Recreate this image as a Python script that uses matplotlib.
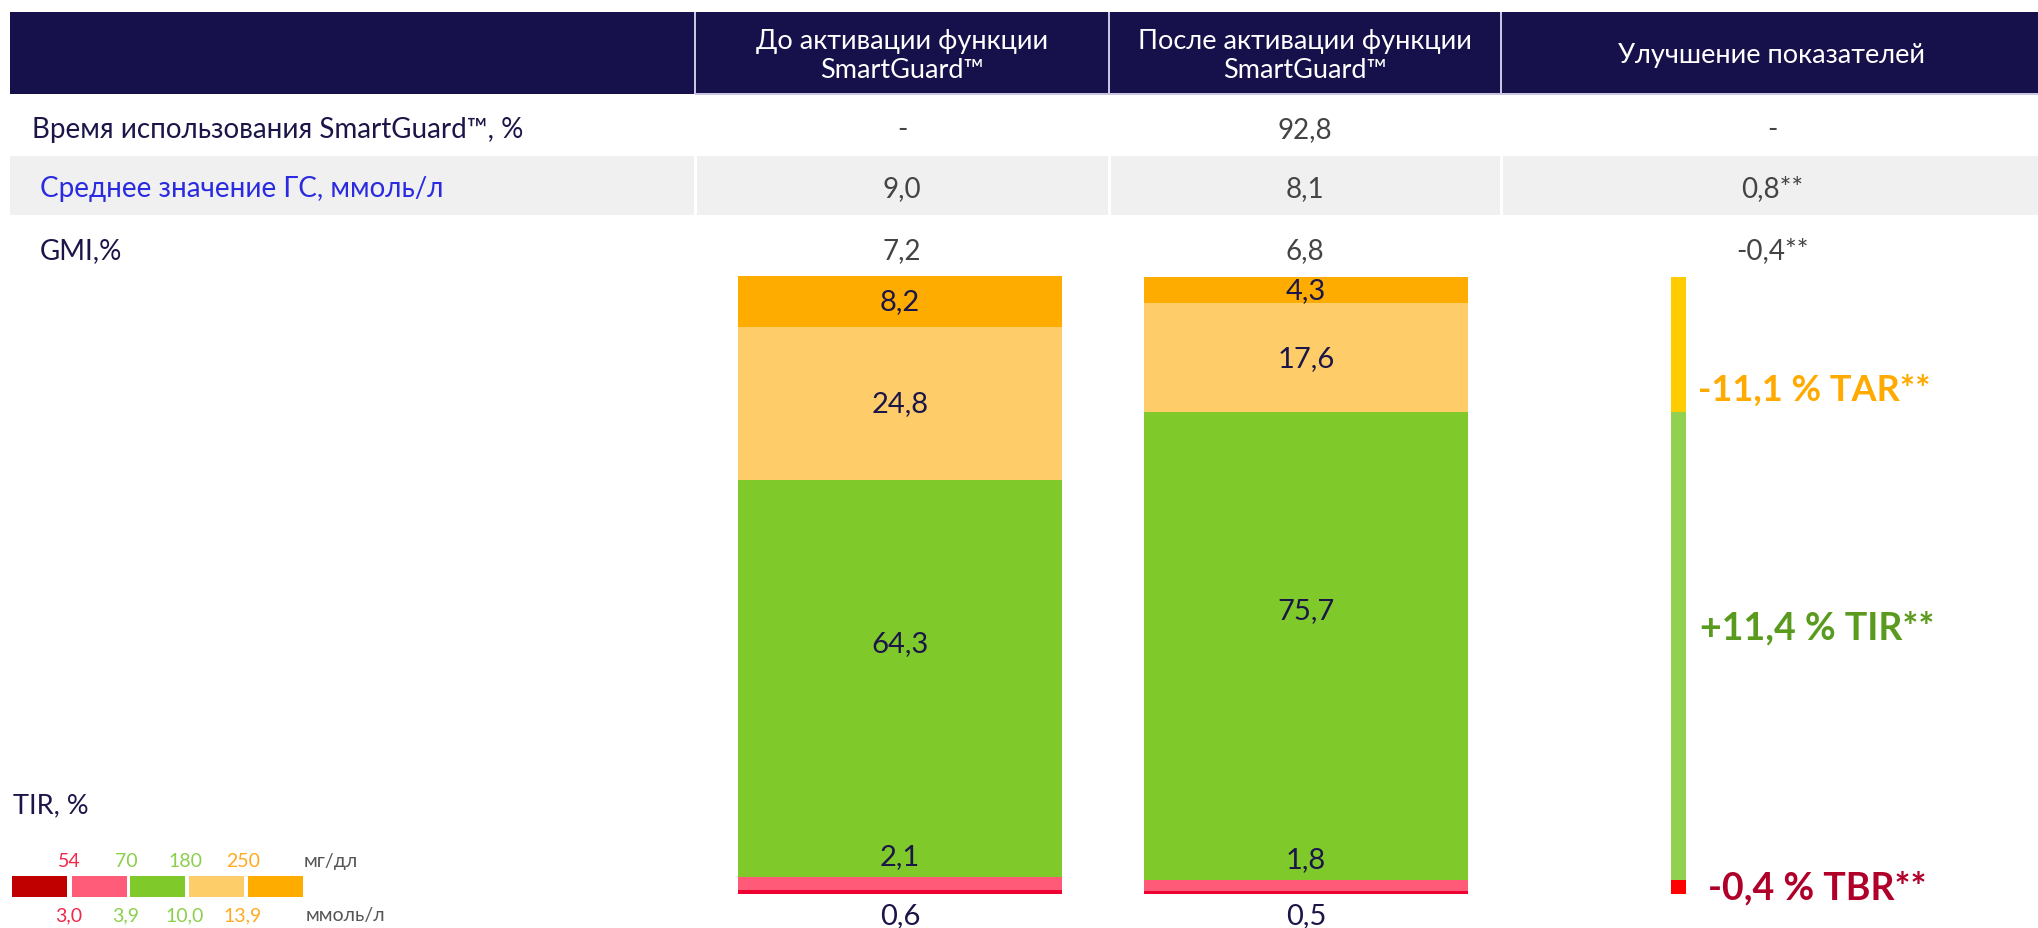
import matplotlib
matplotlib.use("Agg")
import matplotlib.pyplot as plt
from matplotlib.patches import Rectangle
import numpy as np

plt.rcParams['font.family'] = ['Lato', 'DejaVu Sans']

W, H = 2038, 929

# ---------------- data ----------------
columns = ["До активации функции\nSmartGuard™", "После активации функции\nSmartGuard™",
           "Улучшение показателей"]
row_labels = ["Время использования SmartGuard™, %", "Среднее значение ГС, ммоль/л", "GMI,%"]
before_vals = ["-", "9,0", "7,2"]
after_vals = ["92,8", "8,1", "6,8"]
change_vals = ["-", "0,8**", "-0,4**"]

tir_before = [0.6, 2.1, 64.3, 24.8, 8.2]
tir_after = [0.5, 1.8, 75.7, 17.6, 4.3]
seg_colors = ["#EE0030", "#FF5A78", "#7FCA2A", "#FECD69", "#FFAC00"]

change_labels = ["-0,4 % TBR**", "+11,4 % TIR**", "-11,1 % TAR**"]
change_colors = ["#B0002A", "#5A9A1E", "#FFAA00"]
indicator_colors = ["#FF0000", "#92D050", "#FFCC00"]

legend_mgdl = ["54", "70", "180", "250"]
legend_mmol = ["3,0", "3,9", "10,0", "13,9"]
legend_box_colors = ["#C00000", "#FF5C7A", "#7FCA2A", "#FDCD6A", "#FFAC00"]
legend_text_colors = ["#F0284A", "#8CCF4D", "#8CCF4D", "#FFAA22"]

NAVY = "#16104B"
TEXT_NAVY = "#1B1548"
VAL_GRAY = "#444444"

fig = plt.figure(figsize=(W / 100, H / 100), dpi=100)
fig.patch.set_facecolor("white")


def fx(x):
    return x / W


def fy(y):
    return 1 - y / H


def rect(x0, y0, x1, y1, color, z=0):
    fig.patches.append(Rectangle((fx(x0), fy(y1)), (x1 - x0) / W, (y1 - y0) / H,
                                 transform=fig.transFigure, facecolor=color,
                                 edgecolor="none", zorder=z))


def text(x, y, s, **kw):
    fig.text(fx(x), fy(y), s, **kw)


# ---------------- table ----------------
rect(10, 13, W, 95, NAVY)
for xd in [695, 1109, 1501]:
    rect(xd - 1, 13, xd + 1, 95, "#C9C6E4", z=1)
rect(695, 94, W, 96, "#C9C6E4", z=1)

col_centers = [902, 1305, 1772]
for cx, lab in zip(col_centers, columns):
    text(cx, 56, lab, ha="center", va="center", color="white", fontsize=19.5,
         linespacing=1.22)

row_y = [130, 189, 251]
rect(10, 157, W, 216, "#F0F0F0")
for xd in [695, 1109, 1501]:
    rect(xd - 1.5, 157, xd + 1.5, 216, "white", z=1)

row_colors = [TEXT_NAVY, "#2A2AE0", TEXT_NAVY]
row_x = [32, 40, 40]
for y, lab, c, x in zip(row_y, row_labels, row_colors, row_x):
    text(x, y, lab, ha="left", va="center", color=c, fontsize=20)
for vals, cx in zip([before_vals, after_vals, change_vals], col_centers):
    for y, v in zip(row_y, vals):
        text(cx, y, v, ha="center", va="center", color=VAL_GRAY, fontsize=20)

# ---------------- stacked bars ----------------
ax = fig.add_axes([fx(697), fy(895), (1509 - 697) / W, (895 - 277) / H])
ax.set_xlim(-0.5, 1.5)
ax.set_ylim(0, 100)
ax.axis("off")

for i, vals in enumerate([tir_before, tir_after]):
    bottom = 0.0
    for j, v in enumerate(vals):
        ax.bar(i, v, width=0.8, bottom=bottom, color=seg_colors[j], clip_on=False)
        lab = f"{v:.1f}".replace(".", ",")
        if j == 0:
            ly = -3.4
        elif j == 1:
            ly = bottom + v + 3.4
        elif j == 2:
            ly = bottom + v / 2 + 5.8
        else:
            ly = bottom + v / 2
        ax.text(i, ly, lab, ha="center", va="center", color=TEXT_NAVY,
                fontsize=21, clip_on=False)
        bottom += v

# ---------------- change indicator ----------------
ind_vals = [tir_after[0] + tir_after[1], tir_after[2], tir_after[3] + tir_after[4]]
ind_x = 1.917
b = 0.0
for v, c in zip(ind_vals, indicator_colors):
    ax.bar(ind_x, v, width=0.037, bottom=b, color=c, clip_on=False)
    b += v
cum = np.cumsum([0] + ind_vals)
ax.text(1.99, cum[0] + ind_vals[0] / 2, change_labels[0], ha="left", va="center",
        color=change_colors[0], fontsize=27, fontweight="bold", clip_on=False)
ax.text(1.97, cum[1] + ind_vals[1] / 2 + 3, change_labels[1], ha="left", va="center",
        color=change_colors[1], fontsize=27, fontweight="bold", clip_on=False)
ax.text(1.966, cum[2] + 3.7, change_labels[2], ha="left", va="center",
        color=change_colors[2], fontsize=26, fontweight="bold", clip_on=False)

# ---------------- legend ----------------
text(13, 806, "TIR, %", ha="left", va="center", color=TEXT_NAVY, fontsize=19.5)
box_x = [(12, 67), (72, 127), (130, 185), (189, 244), (248, 303)]
for (x0, x1), c in zip(box_x, legend_box_colors):
    rect(x0, 877, x1, 898, c)
bounds = [69, 126, 185, 243]
for bx, t1, t2, c in zip(bounds, legend_mgdl, legend_mmol, legend_text_colors):
    text(bx, 862, t1, ha="center", va="center", color=c, fontsize=14)
    text(bx, 916, t2, ha="center", va="center", color=c, fontsize=14)
text(304, 862, "мг/дл", ha="left", va="center", color="#555555", fontsize=14)
text(306, 916, "ммоль/л", ha="left", va="center", color="#555555", fontsize=14)

fig.savefig("out.png", dpi=100, facecolor="white")
